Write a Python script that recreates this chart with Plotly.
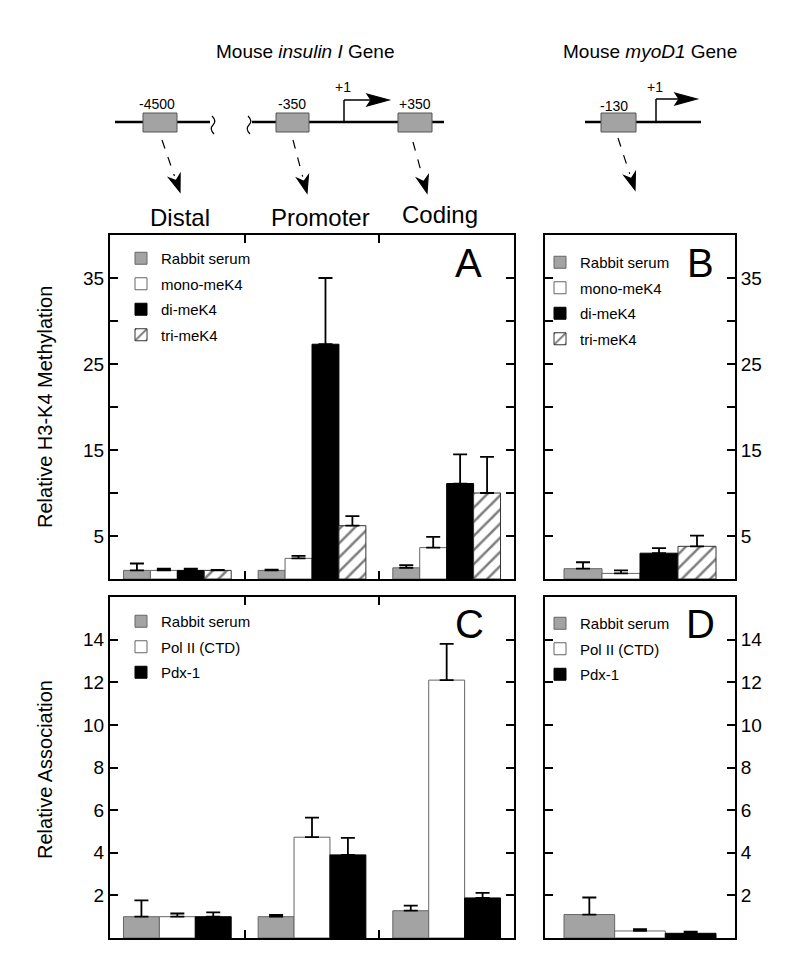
import numpy as np
import plotly.graph_objects as go

# ---------------- data ----------------
regions = ["Distal", "Promoter", "Coding"]
meth_series = ["Rabbit serum", "mono-meK4", "di-meK4", "tri-meK4"]
assoc_series = ["Rabbit serum", "Pol II (CTD)", "Pdx-1"]

# Panel A : insulin I gene, H3-K4 methylation (value, top of error bar)
A_rabbit = [1.0, 1.0, 1.3]
A_rabbit_top = [1.8, 1.1, 1.6]
A_mono = [1.0, 2.4, 3.65]
A_mono_top = [1.2, 2.7, 4.9]
A_di = [1.0, 27.3, 11.1]
A_di_top = [1.2, 35.0, 14.5]
A_tri = [1.0, 6.2, 10.0]
A_tri_top = [1.05, 7.3, 14.2]

# Panel B : myoD1 gene, H3-K4 methylation
B_vals = [1.2, 0.65, 3.0, 3.8]
B_tops = [1.95, 1.0, 3.6, 5.05]

# Panel C : insulin I gene, association
C_rabbit = [1.0, 1.0, 1.28]
C_rabbit_top = [1.77, 1.08, 1.52]
C_pol2 = [1.0, 4.73, 12.1]
C_pol2_top = [1.15, 5.65, 13.8]
C_pdx = [1.0, 3.9, 1.88]
C_pdx_top = [1.2, 4.7, 2.12]

# Panel D : myoD1 gene, association
D_vals = [1.1, 0.33, 0.22]
D_tops = [1.9, 0.42, 0.3]

A_ticks = [5, 10, 15, 20, 25, 30, 35]
A_ticktext = ["5", "", "15", "", "25", "", "35"]
C_ticks = [2, 4, 6, 8, 10, 12, 14]
C_ticktext = ["2", "4", "6", "8", "10", "12", "14"]

# ---------------- styles ----------------
GRAY = "#a3a3a3"
FONT = "Liberation Sans, Arial, sans-serif"
OFF = 8                      # default page margin of the html body
W, H = 800 - OFF, 976 - OFF


def px(x):
    return (x - OFF) / W


def py(y):
    return 1 - (y - OFF) / H


styles_meth = [
    dict(color=GRAY, line=dict(color="#666666", width=1)),
    dict(color="white", line=dict(color="#666666", width=1)),
    dict(color="black", line=dict(color="black", width=1)),
    dict(color="white", line=dict(color="#333333", width=1),
         pattern=dict(shape="/", fgcolor="black", bgcolor="white", size=10, solidity=0.25)),
]
styles_assoc = styles_meth[:3]

fig = go.Figure()


def err(vals, tops):
    return dict(type="data", symmetric=False,
                array=[t - v for v, t in zip(vals, tops)],
                arrayminus=[0] * len(vals),
                color="black", thickness=1.8, width=7)


xg = list(range(len(regions)))

# Panel A
for name, v, t, st in zip(meth_series,
                          [A_rabbit, A_mono, A_di, A_tri],
                          [A_rabbit_top, A_mono_top, A_di_top, A_tri_top],
                          styles_meth):
    fig.add_trace(go.Bar(x=xg, y=v, name=name, marker=st, error_y=err(v, t),
                         xaxis="x", yaxis="y", legend="legend",
                         legendgroup="A" + name))

# Panel B
for i, (name, st) in enumerate(zip(meth_series, styles_meth)):
    fig.add_trace(go.Bar(x=[0], y=[B_vals[i]], name=name, marker=st,
                         error_y=err([B_vals[i]], [B_tops[i]]),
                         xaxis="x2", yaxis="y2", legend="legend2",
                         legendgroup="B" + name))

# Panel C
for name, v, t, st in zip(assoc_series,
                          [C_rabbit, C_pol2, C_pdx],
                          [C_rabbit_top, C_pol2_top, C_pdx_top],
                          styles_assoc):
    fig.add_trace(go.Bar(x=xg, y=v, name=name, marker=st, error_y=err(v, t),
                         xaxis="x3", yaxis="y3", legend="legend3",
                         legendgroup="C" + name))

# Panel D
for i, (name, st) in enumerate(zip(assoc_series, styles_assoc)):
    fig.add_trace(go.Bar(x=[0], y=[D_vals[i]], name=name, marker=st,
                         error_y=err([D_vals[i]], [D_tops[i]]),
                         xaxis="x4", yaxis="y4", legend="legend4",
                         legendgroup="D" + name))

# ---------------- axes ----------------
AX = dict(showline=True, linecolor="black", linewidth=2, mirror="ticks",
          ticks="inside", ticklen=8, tickwidth=1.5, tickcolor="black",
          showgrid=False, zeroline=False,
          tickfont=dict(family=FONT, size=19, color="black"))

yA = (py(579), py(235))
yC = (py(938), py(597))
xL = (px(110), px(514))
xR = (px(545), px(735))

fig.update_layout(
    xaxis=dict(AX, domain=xL, anchor="y", range=[-0.5, 2.5],
               tickvals=[0.5, 1.5], showticklabels=False),
    yaxis=dict(AX, domain=yA, anchor="x", range=[0, 40],
               tickvals=A_ticks, ticktext=A_ticktext),
    xaxis2=dict(AX, domain=xR, anchor="y2", range=[-0.5, 0.5],
                tickvals=[], showticklabels=False),
    yaxis2=dict(AX, domain=yA, anchor="x2", range=[0, 40], side="right",
                tickvals=A_ticks, ticktext=A_ticktext),
    xaxis3=dict(AX, domain=xL, anchor="y3", range=[-0.5, 2.5],
                tickvals=[0.5, 1.5], showticklabels=False),
    yaxis3=dict(AX, domain=yC, anchor="x3", range=[0, 16],
                tickvals=C_ticks, ticktext=C_ticktext),
    xaxis4=dict(AX, domain=xR, anchor="y4", range=[-0.5, 0.5],
                tickvals=[], showticklabels=False),
    yaxis4=dict(AX, domain=yC, anchor="x4", range=[0, 16], side="right",
                tickvals=C_ticks, ticktext=C_ticktext),
)

LEG = dict(xanchor="left", yanchor="top", bgcolor="rgba(0,0,0,0)",
           font=dict(family=FONT, size=15, color="black"),
           tracegroupgap=3, traceorder="grouped")
fig.update_layout(
    legend=dict(LEG, x=px(121), y=py(242)),
    legend2=dict(LEG, x=px(540), y=py(246)),
    legend3=dict(LEG, x=px(121), y=py(605)),
    legend4=dict(LEG, x=px(540), y=py(607)),
)

# ---------------- annotations ----------------
ann = []


def text(x, y, s, size, **kw):
    ann.append(dict(x=px(x), y=py(y), xref="paper", yref="paper", text=s,
                    showarrow=False, xanchor=kw.pop("xanchor", "center"),
                    yanchor="middle",
                    font=dict(family=FONT, size=size, color="black"), **kw))


text(305, 52, "Mouse <i>insulin I</i> Gene", 19)
text(650, 52, "Mouse <i>myoD1</i> Gene", 19)
text(157, 104, "-4500", 14)
text(292, 104, "-350", 14)
text(415, 104, "+350", 14)
text(343, 87, "+1", 14)
text(655, 87, "+1", 14)
text(614, 106, "-130", 14)
text(180, 217, "Distal", 24)
text(320, 217, "Promoter", 24)
text(440, 215, "Coding", 24)
text(468, 263, "A", 40)
text(700, 263, "B", 40)
text(469, 624, "C", 40)
text(700, 624, "D", 40)
text(45, 407, "Relative H3-K4 Methylation", 20, textangle=-90)
text(45, 770, "Relative Association", 20, textangle=-90)

# ---------------- gene diagram shapes ----------------
shapes = []


def line(x0, y0, x1, y1, width=2, dash="solid"):
    shapes.append(dict(type="line", xref="paper", yref="paper",
                       x0=px(x0), y0=py(y0), x1=px(x1), y1=py(y1),
                       line=dict(color="black", width=width, dash=dash)))


def box(x0, x1, y0=113, y1=132):
    shapes.append(dict(type="rect", xref="paper", yref="paper",
                       x0=px(x0), y0=py(y0), x1=px(x1), y1=py(y1),
                       fillcolor=GRAY, line=dict(color="#555555", width=1),
                       layer="above"))


def path(pts, fill=True, width=1.2):
    d = "M " + " L ".join(f"{px(a):.5f},{py(b):.5f}" for a, b in pts)
    if fill:
        d += " Z"
    shapes.append(dict(type="path", xref="paper", yref="paper", path=d,
                       fillcolor="black" if fill else None,
                       line=dict(color="black", width=width)))


def squiggle(x, y0=116, y1=134):
    d = (f"M {px(x - 1):.5f},{py(y0):.5f} "
         f"Q {px(x + 4):.5f},{py(y0 + 5):.5f} {px(x):.5f},{py((y0 + y1) / 2):.5f} "
         f"Q {px(x - 4):.5f},{py(y1 - 5):.5f} {px(x + 1):.5f},{py(y1):.5f}")
    shapes.append(dict(type="path", xref="paper", yref="paper", path=d,
                       line=dict(color="black", width=1.2)))


GY = 122
line(115, GY, 210, GY, 2.5)
line(252, GY, 444, GY, 2.5)
line(585, GY, 701, GY, 2.5)
squiggle(213)
squiggle(249)
box(143, 177)
box(276, 309)
box(398, 432)
box(601, 636)

# transcription start arrows
for xv, xh, yt in [(344, 370, 100), (656, 678, 99)]:
    line(xv, GY, xv, yt, 1.5)
    line(xv, yt, xh, yt, 1.5)
    path([(xh - 3, yt - 6), (xh + 19, yt), (xh - 3, yt + 6), (xh + 1, yt)])


def dashed_arrow(x0, y0, x1, y1):
    v = np.array([x1 - x0, y1 - y0], float)
    L = np.hypot(*v)
    u = v / L
    n = np.array([-u[1], u[0]])
    tip = np.array([x1, y1], float)
    base = tip - 17 * u
    notch = tip - 12 * u
    line(x0, y0, base[0], base[1], 1.2, "dash")
    p1 = base + 6 * n
    p2 = base - 6 * n
    path([tuple(tip), tuple(p1), tuple(notch), tuple(p2)])


dashed_arrow(162, 140, 180, 192)
dashed_arrow(293, 140, 307, 193)
dashed_arrow(413, 142, 427, 193)
dashed_arrow(618, 138, 635, 190)

fig.update_layout(
    width=W, height=H, margin=dict(l=0, r=0, t=0, b=0),
    paper_bgcolor="white", plot_bgcolor="white",
    barmode="group", bargap=0.2, bargroupgap=0,
    font=dict(family=FONT, color="black"),
    annotations=ann, shapes=shapes, showlegend=True,
)

fig.write_html("out.html")
